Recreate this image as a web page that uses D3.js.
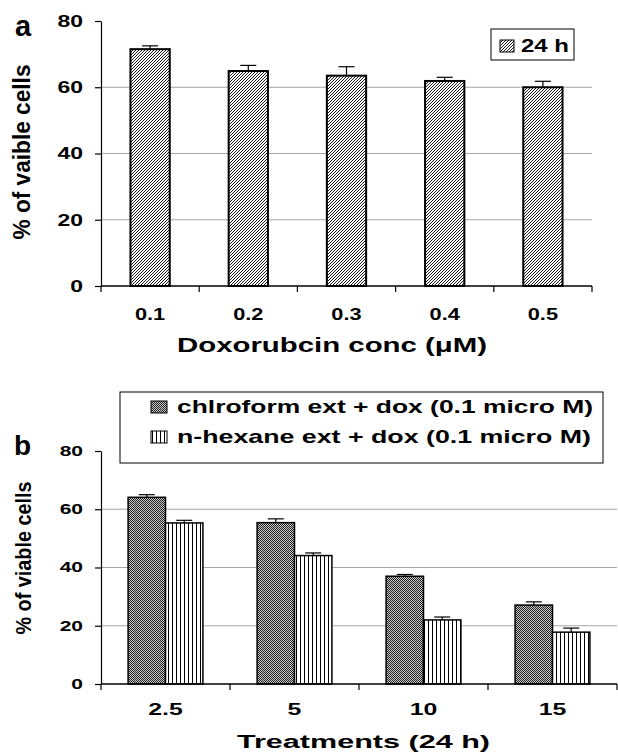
<!DOCTYPE html>
<html>
<head>
<meta charset="utf-8">
<script src="https://cdn.jsdelivr.net/npm/d3@7"></script>
<style>
  body { margin: 0; background: #fff; }
  svg text { font-family: Arial, 'Liberation Sans', sans-serif; font-weight: bold; }
</style>
</head>
<body>
<div id="chart"></div>
<script>
const W = 618
const H = 753

// panel a
const concLabels = ['0.1', '0.2', '0.3', '0.4', '0.5']
const viableA = [71.5, 64.9, 63.5, 61.9, 60.0]
const errA = [1.0, 1.7, 2.7, 1.1, 1.8]

// panel b
const treatLabels = ['2.5', '5', '10', '15']
const seriesNames = ['chlroform ext + dox (0.1 micro M)', 'n-hexane ext + dox (0.1 micro M)']
const chloroform = [64.1, 55.4, 37.0, 27.1]
const chloroformErr = [0.9, 1.3, 0.6, 1.1]
const hexane = [55.3, 44.1, 22.0, 17.8]
const hexaneErr = [0.9, 0.9, 1.0, 1.4]

const yTicks = [0, 20, 40, 60, 80]
const gridTicks = [20, 40, 60]

// the original figure is stretched sideways, so text gets widened
const stretch = (sel, k) => sel.each(function () {
  const len = this.getComputedTextLength()
  d3.select(this)
    .attr('textLength', len * k)
    .attr('lengthAdjust', 'spacingAndGlyphs')
})

const svg = d3.select('#chart').append('svg')
  .attr('width', W)
  .attr('height', H)

const defs = svg.append('defs')

defs.append('pattern')
  .attr('id', 'hatch')
  .attr('patternUnits', 'userSpaceOnUse')
  .attr('width', 3).attr('height', 3)
  .call(p => p.append('rect').attr('width', 3).attr('height', 3).attr('fill', '#fff'))
  .append('path')
    .attr('d', 'M-1,1 l2,-2 M0,3 l3,-3 M2,4 l2,-2')
    .attr('stroke', '#000')
    .attr('stroke-width', 0.9)

const dots = defs.append('pattern')
  .attr('id', 'dots')
  .attr('patternUnits', 'userSpaceOnUse')
  .attr('width', 2).attr('height', 2)
dots.append('rect').attr('width', 2).attr('height', 2).attr('fill', '#c8c8c8')
dots.append('rect').attr('width', 1).attr('height', 1).attr('fill', '#222')
dots.append('rect').attr('x', 1).attr('y', 1).attr('width', 1).attr('height', 1).attr('fill', '#222')

defs.append('pattern')
  .attr('id', 'vstripe')
  .attr('patternUnits', 'userSpaceOnUse')
  .attr('width', 4).attr('height', 4)
  .call(p => p.append('rect').attr('width', 4).attr('height', 4).attr('fill', '#fff'))
  .append('line')
    .attr('x1', 0.5).attr('x2', 0.5).attr('y1', 0).attr('y2', 4)
    .attr('stroke', '#000')
    .attr('stroke-width', 1)

// shared axis drawing
const drawAxes = (g, y, left, right, tickFont, k) => {
  g.selectAll('line.grid')
    .data(gridTicks).enter()
    .append('line')
      .attr('x1', left).attr('x2', right)
      .attr('y1', d => y(d)).attr('y2', d => y(d))
      .attr('stroke', '#a6a6a6')
      .attr('stroke-width', 1)

  g.append('g')
    .attr('transform', `translate(${left},0)`)
    .call(d3.axisLeft(y).tickValues(yTicks).tickSize(6).tickSizeOuter(0).tickPadding(12))
    .call(a => a.select('.domain').attr('stroke', '#000').attr('stroke-width', 1.2))
    .call(a => a.selectAll('.tick line').attr('stroke', '#000').attr('stroke-width', 1.2))
    .call(a => a.selectAll('.tick text')
      .attr('fill', '#000')
      .style('font-size', tickFont + 'px')
      .call(stretch, k))
}

const drawXBase = (g, x, y, left, right) => {
  const n = x.domain().length
  const bounds = d3.range(n + 1).map(i => left + i * x.step())
  g.selectAll('line.xtick')
    .data(bounds).enter()
    .append('line')
      .attr('x1', d => d).attr('x2', d => d)
      .attr('y1', y(0)).attr('y2', y(0) + 6)
      .attr('stroke', '#000')
      .attr('stroke-width', 1.2)
  g.append('line')
    .attr('x1', left).attr('x2', right)
    .attr('y1', y(0)).attr('y2', y(0))
    .attr('stroke', '#000')
    .attr('stroke-width', 1.5)
}

const errorBar = (g, cx, yTop, yErr) => {
  g.append('line')
    .attr('x1', cx).attr('x2', cx)
    .attr('y1', yTop).attr('y2', yErr)
    .attr('stroke', '#000').attr('stroke-width', 1.2)
  g.append('line')
    .attr('x1', cx - 8).attr('x2', cx + 8)
    .attr('y1', yErr).attr('y2', yErr)
    .attr('stroke', '#000').attr('stroke-width', 1.2)
}

// ---------- panel a ----------
const aLeft = 101, aRight = 592
const xa = d3.scaleBand()
  .domain(concLabels)
  .range([aLeft, aRight])
  .paddingInner(0.6)
  .paddingOuter(0.3)

const ya = d3.scaleLinear().domain([0, 80]).range([286, 21])

const ga = svg.append('g')
drawAxes(ga, ya, aLeft, aRight, 17, 1.35)

concLabels.forEach((c, i) => {
  errorBar(ga, xa(c) + xa.bandwidth() / 2, ya(viableA[i]), ya(viableA[i] + errA[i]))
})

ga.selectAll('rect.bar')
  .data(concLabels).enter()
  .append('rect')
    .attr('x', d => xa(d))
    .attr('y', (d, i) => ya(viableA[i]))
    .attr('width', xa.bandwidth())
    .attr('height', (d, i) => ya(0) - ya(viableA[i]))
    .attr('fill', 'url(#hatch)')
    .attr('stroke', '#000')
    .attr('stroke-width', 2)

drawXBase(ga, xa, ya, aLeft, aRight)

ga.selectAll('text.xlab')
  .data(concLabels).enter()
  .append('text')
    .attr('x', d => xa(d) + xa.bandwidth() / 2)
    .attr('y', 320)
    .attr('text-anchor', 'middle')
    .style('font-size', '17px')
    .text(d => d)
    .call(stretch, 1.28)

ga.append('text')
  .attr('x', 177).attr('y', 352)
  .attr('textLength', 310)
  .attr('lengthAdjust', 'spacingAndGlyphs')
  .style('font-size', '20px')
  .text('Doxorubcin conc (\u03bcM)')

ga.append('text')
  .attr('transform', `translate(30,152) rotate(-90)`)
  .attr('text-anchor', 'middle')
  .attr('textLength', 175)
  .attr('lengthAdjust', 'spacingAndGlyphs')
  .style('font-size', '23px')
  .text('% of vaible cells')

ga.append('text')
  .attr('x', 15).attr('y', 36)
  .style('font-size', '29px')
  .text('a')

// legend a
ga.append('rect')
  .attr('x', 491).attr('y', 29)
  .attr('width', 83).attr('height', 31)
  .attr('fill', '#fff').attr('stroke', '#000').attr('stroke-width', 1)
ga.append('rect')
  .attr('x', 500).attr('y', 40)
  .attr('width', 14).attr('height', 12)
  .attr('fill', 'url(#hatch)').attr('stroke', '#000').attr('stroke-width', 1)
ga.append('text')
  .attr('x', 521).attr('y', 52)
  .attr('textLength', 48)
  .attr('lengthAdjust', 'spacingAndGlyphs')
  .style('font-size', '19px')
  .text('24 h')

// ---------- panel b ----------
const bLeft = 101, bRight = 617
const xb = d3.scaleBand()
  .domain(treatLabels)
  .range([bLeft, bRight])
  .paddingInner(0.42)
  .paddingOuter(0.21)

const xs = d3.scaleBand()
  .domain(seriesNames)
  .range([0, xb.bandwidth()])

const yb = d3.scaleLinear().domain([0, 80]).range([684, 451])

const fills = ['url(#dots)', 'url(#vstripe)']
const seriesVals = [chloroform, hexane]
const seriesErr = [chloroformErr, hexaneErr]

const gb = svg.append('g')
drawAxes(gb, yb, bLeft, bRight, 14, 1.5)

seriesNames.forEach((s, si) => {
  treatLabels.forEach((t, i) => {
    const v = seriesVals[si][i]
    errorBar(gb, xb(t) + xs(s) + xs.bandwidth() / 2, yb(v), yb(v + seriesErr[si][i]))
  })
})

seriesNames.forEach((s, si) => {
  gb.selectAll(`rect.s${si}`)
    .data(treatLabels).enter()
    .append('rect')
      .attr('x', d => xb(d) + xs(s))
      .attr('y', (d, i) => yb(seriesVals[si][i]))
      .attr('width', xs.bandwidth())
      .attr('height', (d, i) => yb(0) - yb(seriesVals[si][i]))
      .attr('fill', fills[si])
      .attr('stroke', '#000')
      .attr('stroke-width', 1.5)
})

drawXBase(gb, xb, yb, bLeft, bRight)

gb.selectAll('text.xlab')
  .data(treatLabels).enter()
  .append('text')
    .attr('x', d => xb(d) + xb.bandwidth() / 2)
    .attr('y', 715)
    .attr('text-anchor', 'middle')
    .style('font-size', '16px')
    .text(d => d)
    .call(stretch, 1.55)

gb.append('text')
  .attr('x', 237).attr('y', 748)
  .attr('textLength', 253)
  .attr('lengthAdjust', 'spacingAndGlyphs')
  .style('font-size', '18px')
  .text('Treatments (24 h)')

gb.append('text')
  .attr('transform', `translate(31,558) rotate(-90)`)
  .attr('text-anchor', 'middle')
  .attr('textLength', 153)
  .attr('lengthAdjust', 'spacingAndGlyphs')
  .style('font-size', '22px')
  .text('% of viable cells')

gb.append('text')
  .attr('x', 14).attr('y', 455)
  .style('font-size', '28px')
  .text('b')

// legend b
gb.append('rect')
  .attr('x', 120).attr('y', 392)
  .attr('width', 483).attr('height', 71)
  .attr('fill', '#fff').attr('stroke', '#000').attr('stroke-width', 1)

const legRows = [413, 443]
seriesNames.forEach((s, si) => {
  gb.append('rect')
    .attr('x', 151).attr('y', legRows[si] - 12)
    .attr('width', 16).attr('height', 12)
    .attr('fill', fills[si]).attr('stroke', '#000').attr('stroke-width', 1)
  gb.append('text')
    .attr('x', 177).attr('y', legRows[si])
    .attr('textLength', si === 0 ? 416 : 414)
    .attr('lengthAdjust', 'spacingAndGlyphs')
    .style('font-size', '19px')
    .text(s)
})
</script>
</body>
</html>
